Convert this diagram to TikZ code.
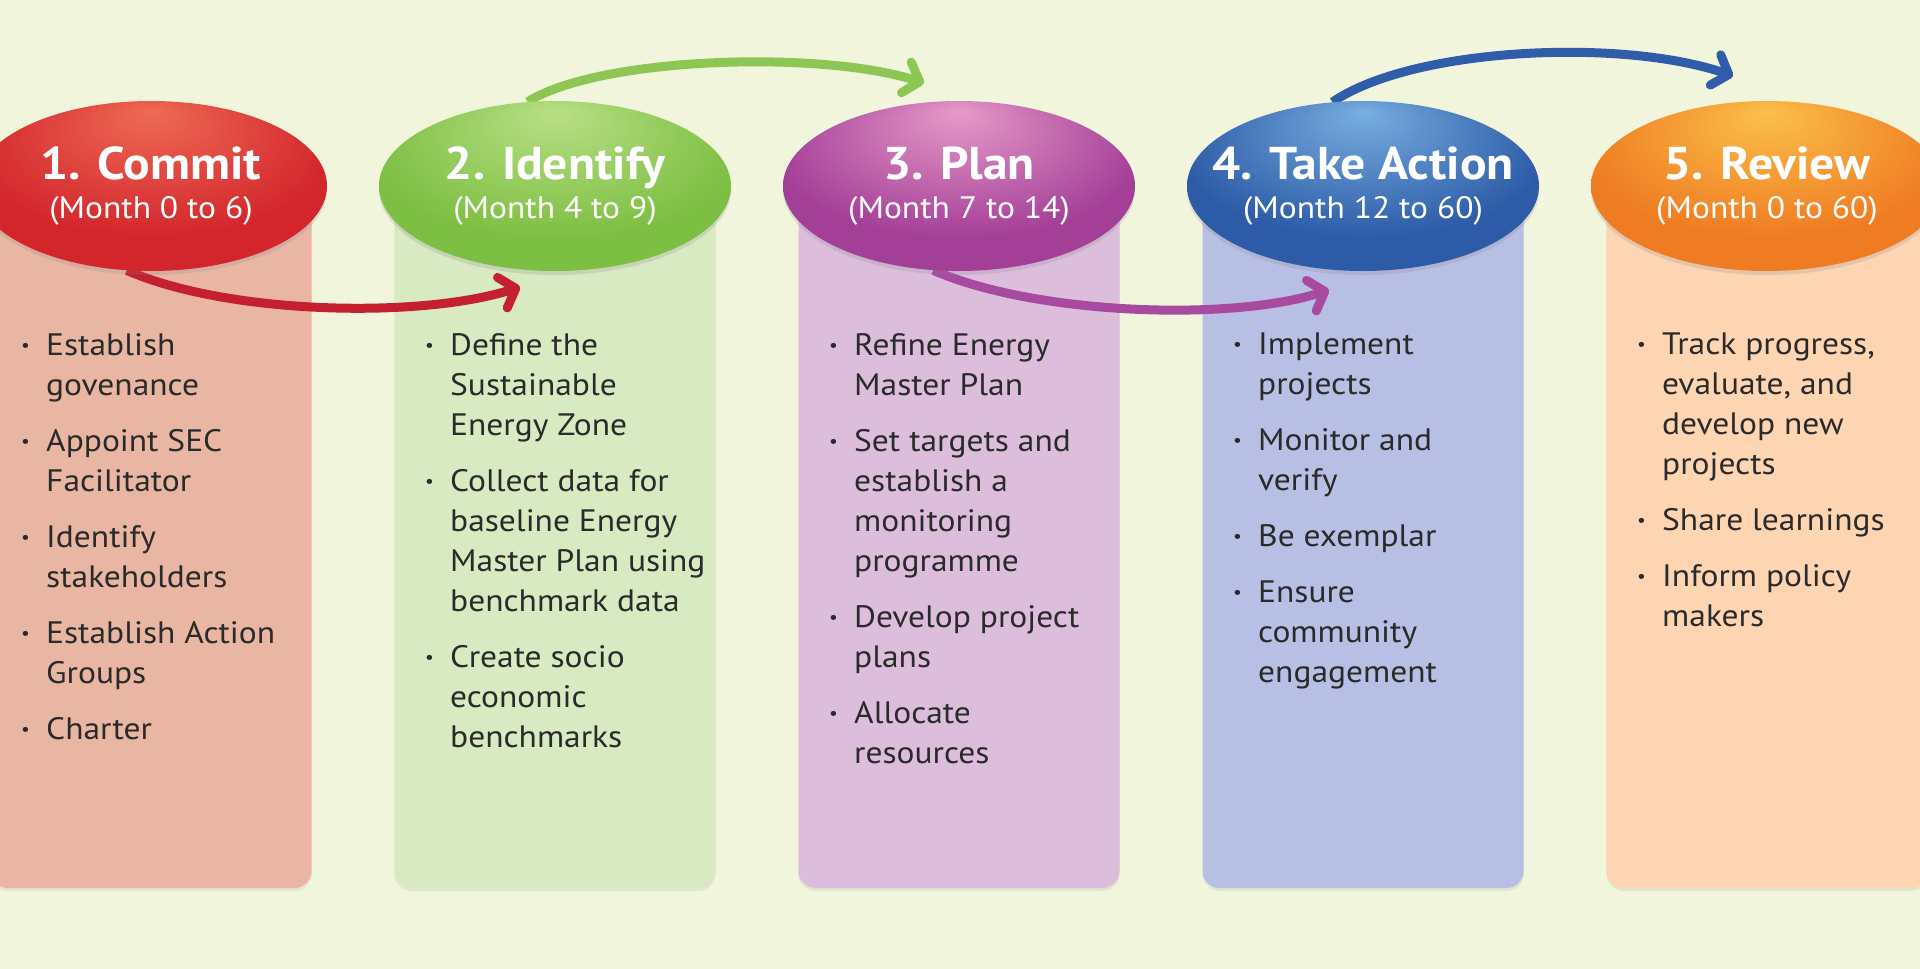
\documentclass[tikz,border=0pt]{standalone}
\usepackage{fontspec}
\setmainfont[FakeStretch=1.08]{PT Sans}
\usetikzlibrary{arrows.meta,shapes.geometric,shadows}

\definecolor{bgcream}{HTML}{F1F5DC}
\definecolor{textgray}{HTML}{2A2A2A}
\definecolor{boxred}{HTML}{E9B6A3}
\definecolor{boxgreen}{HTML}{D8EAC1}
\definecolor{boxpurple}{HTML}{DCBEDC}
\definecolor{boxblue}{HTML}{B7BFE4}
\definecolor{boxorange}{HTML}{FDD5B3}
\definecolor{redorb}{HTML}{D3252C}
\definecolor{redhi}{HTML}{EE6B55}
\definecolor{greenorb}{HTML}{7DBF43}
\definecolor{greenhi}{HTML}{B9DF86}
\definecolor{purpleorb}{HTML}{A43F98}
\definecolor{purplehi}{HTML}{E79BC8}
\definecolor{blueorb}{HTML}{2D5BA7}
\definecolor{bluehi}{HTML}{78AEE0}
\definecolor{orangeorb}{HTML}{EF7B22}
\definecolor{orangehi}{HTML}{FBC04A}
\definecolor{arrowred}{HTML}{C52030}
\definecolor{arrowgreen}{HTML}{8DC652}
\definecolor{arrowpurple}{HTML}{A84AA0}
\definecolor{arrowblue}{HTML}{2F5DA9}

\pgfdeclarelayer{bg}
\pgfdeclarelayer{mid}
\pgfsetlayers{bg,mid,main}

\pgfdeclareradialshading[hi,base]{orb}{\pgfpoint{0bp}{22bp}}{color(0bp)=(hi); color(26bp)=(base); color(44bp)=(base); color(50bp)=(base!78!black)}

\newcommand{\dotmark}{\raisebox{4pt}{\fontsize{18}{18}\selectfont\textbullet}}
\newcommand{\itm}[1]{\makebox[25pt][l]{\dotmark}#1}
\newcommand{\cnt}[1]{\hspace*{25pt}#1}

\begin{document}
\begin{tikzpicture}[
  x=1pt,
  y=-1pt,
  panel/.style={rounded corners=17pt, minimum width=321pt, minimum height=702pt, inner sep=0pt,
    drop shadow={shadow xshift=0pt, shadow yshift=-3pt, opacity=0.12}},
  stage/.style={ellipse, minimum width=352pt, minimum height=170pt, inner sep=0pt, shading=orb,
    drop shadow={shadow xshift=0pt, shadow yshift=-4pt, opacity=0.2}},
  stagelabel/.style={text=white, align=center, inner sep=0pt, font=\fontsize{31}{39}\selectfont},
  points/.style={anchor=north west, align=left, inner sep=0pt, text=textgray,
    font=\fontsize{31}{40}\selectfont},
  flow/.style={line width=9pt, -{Straight Barb[length=14pt,width=32pt,round]}}
]
\useasboundingbox (0,0) rectangle (1920,969);

% Background and panels
\begin{pgfonlayer}{bg}
\fill[bgcream] (0,0) rectangle (1920,969);
\foreach \i/\cx/\col in {1/151/boxred,2/555/boxgreen,3/959/boxpurple,4/1363/boxblue,5/1767/boxorange} {
  \node[panel, fill=\col] (p\i) at (\cx,537) {};
}
\end{pgfonlayer}

% Stage ellipses
\foreach \i/\cx/\hc/\bc/\ttl/\mon in {
  1/151/redhi/redorb/{1. Commit}/{Month 0 to 6},
  2/555/greenhi/greenorb/{2. Identify}/{Month 4 to 9},
  3/959/purplehi/purpleorb/{3. Plan}/{Month 7 to 14},
  4/1363/bluehi/blueorb/{4. Take Action}/{Month 12 to 60},
  5/1767/orangehi/orangeorb/{5. Review}/{Month 0 to 60}} {
  \colorlet{hi}{\hc}\colorlet{base}{\bc}
  \node[stage] (e\i) at (\cx,186) {};
  \node[stagelabel] (l\i) at (e\i.center) {{\fontsize{46}{46}\selectfont\bfseries \ttl}\\(\mon)};
}

% Bullet points
\node[points] (t1) at (21,333) {\itm{Establish}\\ \cnt{govenance}\\[16pt]
  \itm{Appoint SEC}\\ \cnt{Facilitator}\\[16pt]
  \itm{Identify}\\ \cnt{stakeholders}\\[16pt]
  \itm{Establish Action}\\ \cnt{Groups}\\[16pt]
  \itm{Charter}};
\node[points] (t2) at (425,333) {\itm{Define the}\\ \cnt{Sustainable}\\ \cnt{Energy Zone}\\[16pt]
  \itm{Collect data for}\\ \cnt{baseline Energy}\\ \cnt{Master Plan using}\\ \cnt{benchmark data}\\[16pt]
  \itm{Create socio}\\ \cnt{economic}\\ \cnt{benchmarks}};
\node[points] (t3) at (829,333) {\itm{Refine Energy}\\ \cnt{Master Plan}\\[16pt]
  \itm{Set targets and}\\ \cnt{establish a}\\ \cnt{monitoring}\\ \cnt{programme}\\[16pt]
  \itm{Develop project}\\ \cnt{plans}\\[16pt]
  \itm{Allocate}\\ \cnt{resources}};
\node[points] (t4) at (1233,333) {\itm{Implement}\\ \cnt{projects}\\[16pt]
  \itm{Monitor and}\\ \cnt{verify}\\[16pt]
  \itm{Be exemplar}\\[16pt]
  \itm{Ensure}\\ \cnt{community}\\ \cnt{engagement}};
\node[points] (t5) at (1637,333) {\itm{Track progress,}\\ \cnt{evaluate, and}\\ \cnt{develop new}\\ \cnt{projects}\\[16pt]
  \itm{Share learnings}\\[16pt]
  \itm{Inform policy}\\ \cnt{makers}};

% Arrows
\coordinate (h2) at (520,287);
\coordinate (h3) at (924,83);
\coordinate (h4) at (1329,290);
\coordinate (h5) at (1733,76);

\begin{pgfonlayer}{mid}
\draw[flow, arrowred] (e1.254) .. controls +(100,44) and +(-100,32) .. (h2);
\draw[flow, arrowgreen] (e2.108) .. controls +(71,-45) and +(-104,-33) .. (h3);
\draw[flow, arrowpurple] (e3.253) .. controls +(100,44) and +(-100,32) .. (h4);
\draw[flow, arrowblue] (e4.110) .. controls +(80,-55) and +(-110,-38) .. (h5);
\end{pgfonlayer}

\end{tikzpicture}
\end{document}
